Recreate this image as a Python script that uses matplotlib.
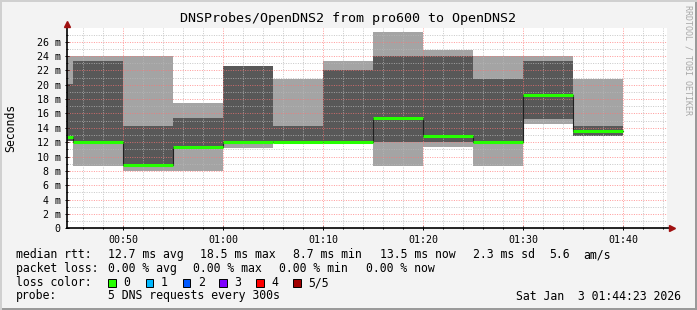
import numpy as np
import matplotlib
matplotlib.use("Agg")
import matplotlib.pyplot as plt
from matplotlib.ticker import MultipleLocator
from matplotlib.patches import Rectangle

# ---------------- data ----------------
start_label = "00:44:23"
interval_ends = ["00:45", "00:50", "00:55", "01:00", "01:05", "01:10",
                 "01:15", "01:20", "01:25", "01:30", "01:35", "01:40"]
# sorted ping values per interval (ms): p1 lowest ... p5 highest
ping1 = [12.1, 8.7, 8.0, 8.0, 11.25, 12.0, 12.0, 8.7, 11.3, 8.7, 14.5, 12.8]
ping2 = [12.1, 12.0, 8.75, 11.25, 12.0, 12.0, 12.0, 12.05, 12.0, 12.0, 15.2, 12.8]
median = [12.75, 12.05, 8.8, 11.3, 12.05, 12.05, 12.05, 15.35, 12.8, 12.05, 18.55, 13.5]
ping4 = [20.1, 23.3, 14.25, 15.4, 22.6, 14.25, 22.0, 24.05, 24.05, 20.8, 23.3, 14.25]
ping5 = [24.05, 24.05, 24.05, 17.4, 22.6, 20.8, 23.3, 27.4, 24.85, 24.05, 24.05, 20.8]

y_ticks = [0, 2, 4, 6, 8, 10, 12, 14, 16, 18, 20, 22, 24, 26]
y_tick_labels = ["0"] + [f"{v} m" for v in y_ticks[1:]]
x_ticks = ["00:50", "01:00", "01:10", "01:20", "01:30", "01:40"]

loss_labels = ["0", "1", "2", "3", "4", "5/5"]
loss_colors = ["#26ff00", "#00b8ff", "#0059ff", "#7e00ff", "#ff0000", "#a10000"]

title = "DNSProbes/OpenDNS2 from pro600 to OpenDNS2"
stats_rtt = ["median rtt:", "12.7 ms avg", "18.5 ms max", "8.7 ms min",
             "13.5 ms now", "2.3 ms sd", "5.6", "am/s"]
stats_loss = ["packet loss:", "0.00 % avg", "0.00 % max", "0.00 % min", "0.00 % now"]
probe_text = ["probe:", "5 DNS requests every 300s"]
date_text = "Sat Jan  3 01:44:23 2026"


def to_min(s):
    parts = [int(p) for p in s.split(":")]
    m = parts[0] * 60 + parts[1]
    if len(parts) > 2:
        m += parts[2] / 60.0
    return m


# ---------------- figure ----------------
W, H = 697, 310
DPI = 100
fig = plt.figure(figsize=(W / DPI, H / DPI), dpi=DPI)
fig.patch.set_facecolor("#f3f3f3")
MONO = "DejaVu Sans Mono"

px_l, px_r, px_t, px_b = 67, 667, 27.7, 228.3
ax = fig.add_axes([px_l / W, 1 - px_b / H, (px_r - px_l) / W, (px_b - px_t) / H])
ax.set_facecolor("white")

t0 = to_min(start_label)
edges = np.array([t0] + [to_min(s) for s in interval_ends])
t_end = t0 + 60

def stepvals(v):
    v = np.asarray(v, dtype=float)
    return np.append(v, v[-1])

ax.fill_between(edges, stepvals(ping1), stepvals(ping5), step="post",
                color="#a4a4a4", lw=0, zorder=1)
ax.fill_between(edges, stepvals(ping2), stepvals(ping4), step="post",
                color="#585858", lw=0, zorder=1.1)

# grid
gkw = dict(lw=0.72, linestyle=(0, (1, 1.4)), zorder=2)
minor_c = (0.72, 0.72, 0.72, 0.75)
major_c = (1.0, 0.45, 0.45, 0.7)
for m in np.arange(np.ceil(t0 / 2) * 2, t_end, 2):
    if int(round(m)) % 10 != 0:
        ax.axvline(m, color=minor_c, **gkw)
for m in np.arange(np.ceil(t0 / 10) * 10, t_end, 10):
    ax.axvline(m, color=major_c, **gkw)
for v in range(1, 28):
    ax.axhline(v, color=minor_c if v % 2 else major_c, **gkw)

# median: thin dark step line plus green loss-colored bands
ax.step(edges, stepvals(median), where="post", color="#202020", lw=0.8, zorder=3)
ax.hlines(median, edges[:-1], edges[1:], colors=loss_colors[0], lw=2.2,
          zorder=4, capstyle="butt")

ax.set_xlim(t0, t_end)
ax.set_ylim(0, 27.95)

for s in ax.spines.values():
    s.set_visible(False)

ax.set_yticks(y_ticks)
ax.set_yticklabels(y_tick_labels, family=MONO, fontsize=7.2)
ax.set_xticks([to_min(s) for s in x_ticks])
ax.set_xticklabels(x_ticks, family=MONO, fontsize=7.2)
ax.xaxis.set_minor_locator(MultipleLocator(2))
ax.yaxis.set_minor_locator(MultipleLocator(1))
ax.tick_params(axis="both", which="major", direction="inout", length=3,
               width=0.72, color="black")
ax.tick_params(axis="both", which="minor", direction="inout", length=2,
               width=0.72, color="black")
ax.tick_params(axis="x", which="major", pad=3)
ax.tick_params(axis="y", which="major", pad=3)

# axes lines with arrows
ax.plot([0, 1.003], [0, 0], transform=ax.transAxes, color="black", lw=1.2,
        clip_on=False, zorder=5)
ax.plot([0, 0], [0, 1.01], transform=ax.transAxes, color="black", lw=1.2,
        clip_on=False, zorder=5)
ax.plot([1.008], [0], transform=ax.transAxes, marker=">", ms=4.5, color="#a01010",
        clip_on=False, zorder=6, mec="#a01010")
ax.plot([0], [1.018], transform=ax.transAxes, marker="^", ms=4.5, color="#a01010",
        clip_on=False, zorder=6, mec="#a01010")

# y label
fig.text(10.5 / W, 1 - 127.5 / H, "Seconds", family=MONO, fontsize=8.3,
         rotation=90, ha="center", va="center")

# title
fig.text(347.5 / W, 1 - 18.5 / H, title, family=MONO, fontsize=9.6,
         ha="center", va="center")

# right vertical credit
fig.text(688 / W, 1 - 60 / H, "RRDTOOL / TOBI OETIKER", family=MONO, fontsize=6,
         color="#a8a8a8", rotation=270, ha="center", va="center")

# legend / stats
def ftxt(x, y, s, **kw):
    fig.text(x / W, 1 - y / H, s, family=MONO, fontsize=8.3, va="center", **kw)

rtt_x = [16, 107.7, 200, 293.3, 380, 472.7, 549, 583.3]
for x, s in zip(rtt_x, stats_rtt):
    ftxt(x, 254.5, s)
loss_x = [16, 107.7, 193.3, 279.3, 365.7]
for x, s in zip(loss_x, stats_loss):
    ftxt(x, 268.5, s)
ftxt(16, 282.5, "loss color:")
box_x = [108.3, 145.7, 182.7, 219.3, 256.3, 293.3]
for bx, lab, col in zip(box_x, loss_labels, loss_colors):
    fig.patches.append(Rectangle((bx / W, 1 - 286.5 / H), 7.5 / W, 7.5 / H,
                                 transform=fig.transFigure, facecolor=col,
                                 edgecolor="black", lw=0.7))
    ftxt(bx + 15, 282.5, lab)
ftxt(16, 296, probe_text[0])
ftxt(107.7, 296, probe_text[1])
ftxt(681, 296, date_text, ha="right")

# 3D frame
fig.patches.append(Rectangle((0, 0), 1, 2 / H, transform=fig.transFigure,
                             facecolor="#9a9a9a", lw=0))
fig.patches.append(Rectangle((1 - 2 / W, 0), 2 / W, 1, transform=fig.transFigure,
                             facecolor="#9a9a9a", lw=0))
fig.patches.append(Rectangle((0, 1 - 2 / H), 1, 2 / H, transform=fig.transFigure,
                             facecolor="#d0d0d0", lw=0))
fig.patches.append(Rectangle((0, 0), 2 / W, 1, transform=fig.transFigure,
                             facecolor="#d0d0d0", lw=0))

fig.savefig("out.png", dpi=DPI, facecolor=fig.get_facecolor())
